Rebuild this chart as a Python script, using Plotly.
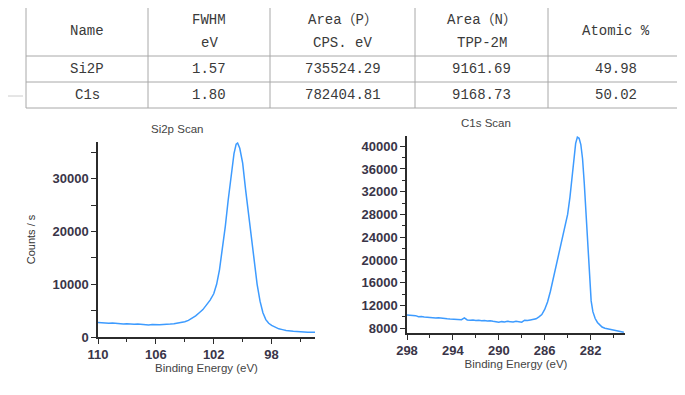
import plotly.graph_objects as go

W, H = 685, 395
OFF = 8  # page body margin in the browser

# ---------------- table data ----------------
header_lines = [["Name"], ["FWHM", "eV"], ["Area（P）", "CPS. eV"], ["Area（N）", "TPP-2M"], ["Atomic %"]]
names = ["Si2P", "C1s"]
fwhm = ["1.57", "1.80"]
area_p = ["735524.29", "782404.81"]
area_n = ["9161.69", "9168.73"]
atomic = ["49.98", "50.02"]

# ---------------- Si2p spectrum ----------------
si_be = [110.0, 109.75, 109.5, 109.25, 109.0, 108.75, 108.5, 108.25, 108.0, 107.75,
         107.5, 107.25, 107.0, 106.75, 106.5, 106.25, 106.0, 105.75, 105.5, 105.25,
         105.0, 104.75, 104.5, 104.25, 104.0, 103.75, 103.5, 103.25, 103.0, 102.75,
         102.5, 102.25, 102.0, 101.8, 101.6, 101.4, 101.2, 101.0, 100.8, 100.6,
         100.45, 100.35, 100.2, 100.0, 99.8, 99.6, 99.4, 99.2, 99.0, 98.8,
         98.6, 98.4, 98.2, 98.0, 97.75, 97.5, 97.25, 97.0, 96.5, 96.0, 95.5, 95.0]
si_cps = [2750, 2680, 2720, 2600, 2650, 2560, 2600, 2480, 2530, 2450,
          2420, 2470, 2380, 2350, 2300, 2380, 2330, 2310, 2380, 2350,
          2450, 2500, 2620, 2700, 2900, 3150, 3500, 4000, 4600, 5200,
          6100, 7000, 8200, 10000, 12800, 16500, 21000, 26000, 31000, 34800,
          36600, 36800, 35800, 33000, 28000, 23500, 18500, 14000, 10000, 6800,
          4600, 3300, 2600, 2200, 1800, 1550, 1400, 1250, 1100, 980, 920, 880]

# ---------------- C1s spectrum ----------------
c_be = [298.0, 297.75, 297.5, 297.25, 297.0, 296.75, 296.5, 296.25, 296.0, 295.75,
        295.5, 295.25, 295.0, 294.75, 294.5, 294.25, 294.0, 293.75, 293.5, 293.25,
        293.0, 292.75, 292.5, 292.25, 292.0, 291.75, 291.5, 291.25, 291.0, 290.75,
        290.5, 290.25, 290.0, 289.75, 289.5, 289.25, 289.0, 288.75, 288.5, 288.25,
        288.0, 287.75, 287.5, 287.25, 287.0, 286.75, 286.5, 286.25, 286.0, 285.75,
        285.5, 285.25, 285.0, 284.75, 284.5, 284.25, 284.0, 283.8, 283.6, 283.45,
        283.3, 283.15, 283.0, 282.85, 282.7, 282.55, 282.4, 282.25, 282.1, 281.95,
        281.8, 281.6, 281.4, 281.2, 281.0, 280.75, 280.5, 280.25, 280.0, 279.75,
        279.5, 279.25, 279.1]
c_cps = [10300, 10250, 10150, 10200, 10000, 10050, 9950, 9900, 9950, 9850,
         9800, 9850, 9750, 9700, 9650, 9600, 9550, 9600, 9450, 9500,
         9800, 9450, 9400, 9450, 9350, 9400, 9300, 9350, 9250, 9300,
         9200, 9150, 9050, 9150, 9100, 9200, 9150, 9100, 9200, 9150,
         9050, 9400, 9350, 9450, 9550, 9650, 10000, 10400, 11300, 12600,
         14500, 16800, 19200, 21500, 23500, 25800, 28000, 31000, 34800, 38000,
         40500, 41600, 41400, 40300, 37800, 33500, 28000, 22000, 16500, 12800,
         10900, 9700, 9000, 8500, 8200, 8000, 7900, 7750, 7700, 7600,
         7550, 7400, 7300]

LINE_COLOR = "#3d9bff"
TICK_COLOR = "#3a3548"
AX_COLOR = "#2b2b2b"
GRID_COLOR = "#a8a8a8"
TITLE_FONT = dict(family="Liberation Sans, Arial", size=11.5, color="#444444")
TICK_FONT = dict(family="Liberation Sans, Arial", size=13, color=TICK_COLOR, weight="bold")
TABLE_FONT = dict(family="Liberation Mono, Noto Sans CJK SC", size=14, color="#3a3a3a")

# table geometry (screen pixels)
col_edges = [26, 148, 270, 415, 548, 683]
row_edges = [7, 56, 82, 108]


def px(x):
    return (x - OFF) / W


def py(y):
    return 1 - (y - OFF) / H


fig = go.Figure()

fig.add_trace(go.Scatter(x=si_be, y=si_cps, mode="lines", xaxis="x", yaxis="y",
                         line=dict(color=LINE_COLOR, width=1.5), showlegend=False))
fig.add_trace(go.Scatter(x=c_be, y=c_cps, mode="lines", xaxis="x2", yaxis="y2",
                         line=dict(color=LINE_COLOR, width=1.5), showlegend=False))

# ---- table as shapes + text annotations ----
shapes = []
for xe in col_edges:
    shapes.append(dict(type="line", xref="paper", yref="paper", x0=px(xe), x1=px(xe),
                       y0=py(row_edges[0]), y1=py(row_edges[-1]),
                       line=dict(color=GRID_COLOR, width=1)))
for ye in row_edges:
    shapes.append(dict(type="line", xref="paper", yref="paper", x0=px(col_edges[0]),
                       x1=px(col_edges[-1]), y0=py(ye), y1=py(ye),
                       line=dict(color=GRID_COLOR, width=1)))
shapes.append(dict(type="line", xref="paper", yref="paper", x0=px(OFF), x1=px(23),
                   y0=py(96), y1=py(96), line=dict(color="#cccccc", width=1)))

annotations = []
hdr_mid = (row_edges[0] + row_edges[1]) / 2
for ci, lines in enumerate(header_lines):
    cx = (col_edges[ci] + col_edges[ci + 1]) / 2
    if len(lines) == 1:
        ys = [hdr_mid]
    else:
        ys = [hdr_mid - 11, hdr_mid + 11]
    for txt, yy in zip(lines, ys):
        annotations.append(dict(text=txt, x=px(cx), y=py(yy), xref="paper", yref="paper",
                                showarrow=False, font=TABLE_FONT,
                                xanchor="center", yanchor="middle"))
columns = [names, fwhm, area_p, area_n, atomic]
for ci, col in enumerate(columns):
    cx = (col_edges[ci] + col_edges[ci + 1]) / 2
    for ri, txt in enumerate(col):
        cy = (row_edges[ri + 1] + row_edges[ri + 2]) / 2
        annotations.append(dict(text=txt, x=px(cx), y=py(cy), xref="paper", yref="paper",
                                showarrow=False, font=TABLE_FONT,
                                xanchor="center", yanchor="middle"))

annotations += [
    dict(text="Si2p Scan", x=px(177), y=py(129), xref="paper", yref="paper",
         showarrow=False, font=TITLE_FONT, xanchor="center", yanchor="middle"),
    dict(text="C1s Scan", x=px(486), y=py(123), xref="paper", yref="paper",
         showarrow=False, font=TITLE_FONT, xanchor="center", yanchor="middle"),
]

axis_common = dict(showgrid=False, zeroline=False, showline=True, linecolor=AX_COLOR,
                   linewidth=1.5, ticks="outside", ticklen=5, tickwidth=1,
                   tickcolor=AX_COLOR, tickfont=TICK_FONT, automargin=False,
                   tickformat="d")

fig.update_layout(
    width=W, height=H, margin=dict(l=0, r=0, t=0, b=0, autoexpand=False),
    paper_bgcolor="white", plot_bgcolor="white", showlegend=False,
    xaxis=dict(domain=[px(98), px(315)], range=[110, 95], tickvals=[110, 106, 102, 98],
               minor=dict(tickvals=[108, 104, 100, 96], ticks="outside", ticklen=3,
                          tickcolor=AX_COLOR),
               title=dict(text="Binding Energy (eV)", font=TITLE_FONT, standoff=2),
               anchor="y", **axis_common),
    yaxis=dict(domain=[py(337), py(142)], range=[0, 37000],
               tickvals=[0, 10000, 20000, 30000],
               minor=dict(tickvals=[5000, 15000, 25000, 35000], ticks="outside", ticklen=5,
                          tickcolor=AX_COLOR),
               title=dict(text="Counts / s", font=dict(TITLE_FONT, size=11, color="#333333"),
                          standoff=15),
               anchor="x", **axis_common),
    xaxis2=dict(domain=[px(407), px(625)], range=[298, 279],
                tickvals=[298, 294, 290, 286, 282],
                minor=dict(tickvals=[296, 292, 288, 284, 280], ticks="outside", ticklen=3,
                           tickcolor=AX_COLOR),
                title=dict(text="Binding Energy (eV)", font=TITLE_FONT, standoff=0),
                anchor="y2", **axis_common),
    yaxis2=dict(domain=[py(333), py(136)], range=[7150, 41800],
                tickvals=[8000, 12000, 16000, 20000, 24000, 28000, 32000, 36000, 40000],
                minor=dict(tickvals=[10000, 14000, 18000, 22000, 26000, 30000, 34000, 38000],
                           ticks="outside", ticklen=3, tickcolor=AX_COLOR),
                anchor="x2", **axis_common),
    annotations=annotations,
    shapes=shapes,
)

fig.write_html("out.html")
